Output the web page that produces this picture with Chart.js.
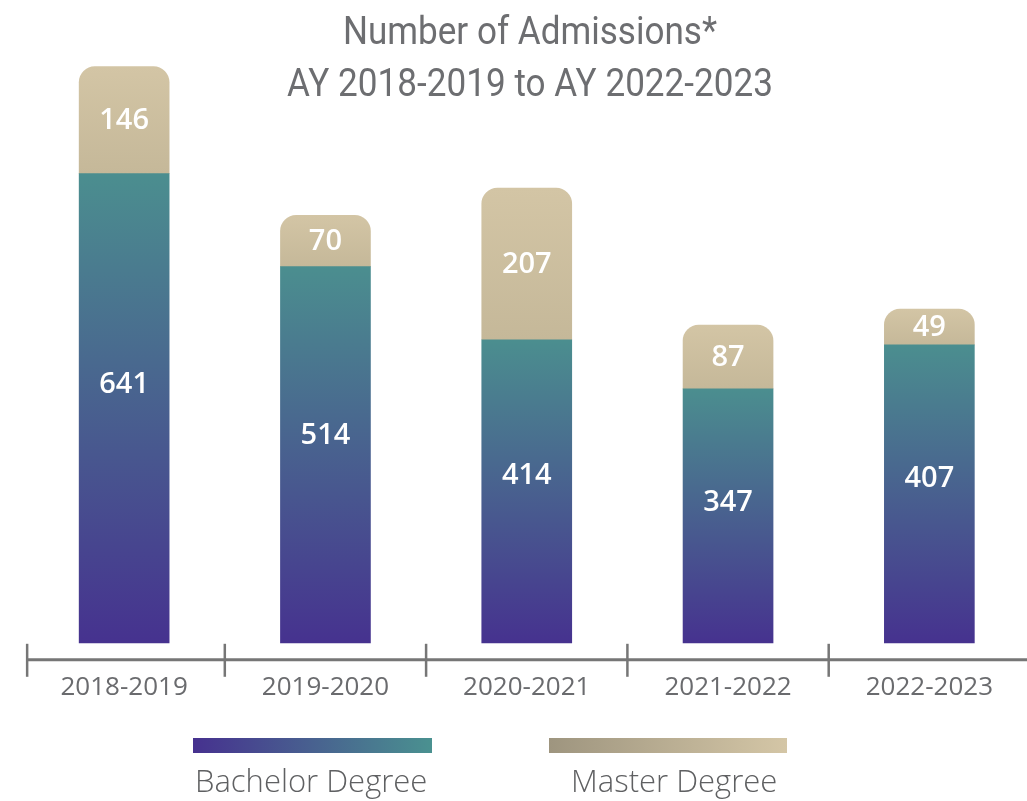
<!DOCTYPE html>
<html lang="en">
  <head>
    <meta charset="UTF-8" />
    <title>Number of Admissions</title>
    <style>
      html, body { margin: 0; padding: 0; background: #ffffff; overflow: hidden; }
      #chart { display: block; }
    </style>
  </head>
  <body>
    <canvas id="chart" width="1030" height="801"></canvas>

    <script src="https://cdn.jsdelivr.net/npm/chart.js"></script>
    <script>
      // data
      const years = ["2018-2019", "2019-2020", "2020-2021", "2021-2022", "2022-2023"];
      const bachelor = [641, 514, 414, 347, 407];
      const master = [146, 70, 207, 87, 49];
      const titleLines = ["Number of Admissions*", "AY 2018-2019 to AY 2022-2023"];
      const seriesNames = ["Bachelor Degree", "Master Degree"];

      const grey = "#6d6e71";

      // vertical gradient for one bar segment, from its base up to its top
      function segmentGradient(c, from, to, bottomColor, topColor) {
        const chart = c.chart;
        if (!chart.chartArea) return topColor;
        const y = chart.scales.y;
        const g = chart.ctx.createLinearGradient(0, y.getPixelForValue(from), 0, y.getPixelForValue(to));
        g.addColorStop(0, bottomColor);
        g.addColorStop(1, topColor);
        return g;
      }

      const overlay = {
        id: "overlay",
        afterDatasetsDraw(chart) {
          const ctx = chart.ctx;
          const x = chart.scales.x;
          const area = chart.chartArea;

          // axis line and separators
          const axisY = area.bottom;
          ctx.save();
          ctx.strokeStyle = "#767676";
          ctx.lineWidth = 3;
          ctx.beginPath();
          ctx.moveTo(x.getPixelForValue(0) - 97, axisY);
          ctx.lineTo(chart.width, axisY);
          ctx.stroke();
          ctx.lineWidth = 2.5;
          const step = x.getPixelForValue(1) - x.getPixelForValue(0);
          for (let i = 0; i < years.length; i++) {
            const px = i === 0 ? x.getPixelForValue(0) - 97 : x.getPixelForValue(i) - step / 2;
            ctx.beginPath();
            ctx.moveTo(px, axisY - 16);
            ctx.lineTo(px, axisY + 17);
            ctx.stroke();
          }
          ctx.restore();

          // value labels
          ctx.save();
          ctx.fillStyle = "#ffffff";
          ctx.font = "600 29px 'Open Sans'";
          ctx.textAlign = "center";
          ctx.textBaseline = "middle";
          chart.getDatasetMeta(0).data.forEach((bar, i) => {
            const ly = bar.y + (bar.base - bar.y) * 0.45;
            ctx.fillText(String(bachelor[i]), bar.x, ly);
          });
          chart.getDatasetMeta(1).data.forEach((bar, i) => {
            ctx.fillText(String(master[i]), bar.x, (bar.y + bar.base) / 2 + 1);
          });
          ctx.restore();
        },
        afterDraw(chart) {
          const ctx = chart.ctx;

          // title, condensed by horizontal scaling
          ctx.save();
          ctx.fillStyle = grey;
          ctx.font = "400 38px Roboto";
          ctx.textBaseline = "alphabetic";
          const widths = [374, 486];
          const baselines = [44, 96];
          titleLines.forEach((t, i) => {
            const w = ctx.measureText(t).width;
            const s = widths[i] / w;
            ctx.save();
            ctx.translate(530, baselines[i]);
            ctx.scale(s, 1);
            ctx.textAlign = "center";
            ctx.fillText(t, 0, 0);
            ctx.restore();
          });
          ctx.restore();

          // legend
          ctx.save();
          const g1 = ctx.createLinearGradient(193, 0, 432, 0);
          g1.addColorStop(0, "#46318f");
          g1.addColorStop(1, "#4a9190");
          ctx.fillStyle = g1;
          ctx.fillRect(193, 738, 239, 15);
          const g2 = ctx.createLinearGradient(549, 0, 787, 0);
          g2.addColorStop(0, "#9e957f");
          g2.addColorStop(1, "#d4c6a6");
          ctx.fillStyle = g2;
          ctx.fillRect(549, 738, 238, 15);
          ctx.fillStyle = "#5f6062";
          ctx.font = "300 31px 'Open Sans'";
          ctx.textBaseline = "alphabetic";
          ctx.textAlign = "left";
          ctx.fillText(seriesNames[0], 195, 792);
          ctx.fillText(seriesNames[1], 571, 792);
          ctx.restore();
        },
      };

      new Chart(document.getElementById("chart"), {
        type: "bar",
        data: {
          labels: years,
          datasets: [
            {
              label: seriesNames[0],
              data: bachelor,
              backgroundColor: (c) =>
                segmentGradient(c, 0, bachelor[c.dataIndex], "#46328f", "#4b8e8f"),
              borderWidth: 0,
              borderRadius: 0,
              barThickness: 90,
            },
            {
              label: seriesNames[1],
              data: master,
              backgroundColor: (c) =>
                segmentGradient(
                  c,
                  bachelor[c.dataIndex],
                  bachelor[c.dataIndex] + master[c.dataIndex],
                  "#c5b899",
                  "#d3c5a5"
                ),
              borderWidth: 0,
              borderRadius: { topLeft: 16, topRight: 16, bottomLeft: 0, bottomRight: 0 },
              borderSkipped: false,
              barThickness: 90,
            },
          ],
        },
        options: {
          responsive: false,
          animation: false,
          layout: { padding: { left: 23.5, right: 0, top: 0, bottom: 86 } },
          plugins: {
            legend: { display: false },
            title: { display: false },
            tooltip: { enabled: false },
          },
          scales: {
            x: {
              stacked: true,
              grid: { display: false, drawTicks: false },
              border: { display: false },
              ticks: {
                color: "#6a6b6e",
                font: { family: "'Open Sans'", size: 26, weight: 400 },
                padding: 12,
                maxRotation: 0,
              },
            },
            y: {
              stacked: true,
              display: false,
              min: -23,
              max: 878,
            },
          },
        },
        plugins: [overlay],
      });
    </script>
  </body>
</html>
